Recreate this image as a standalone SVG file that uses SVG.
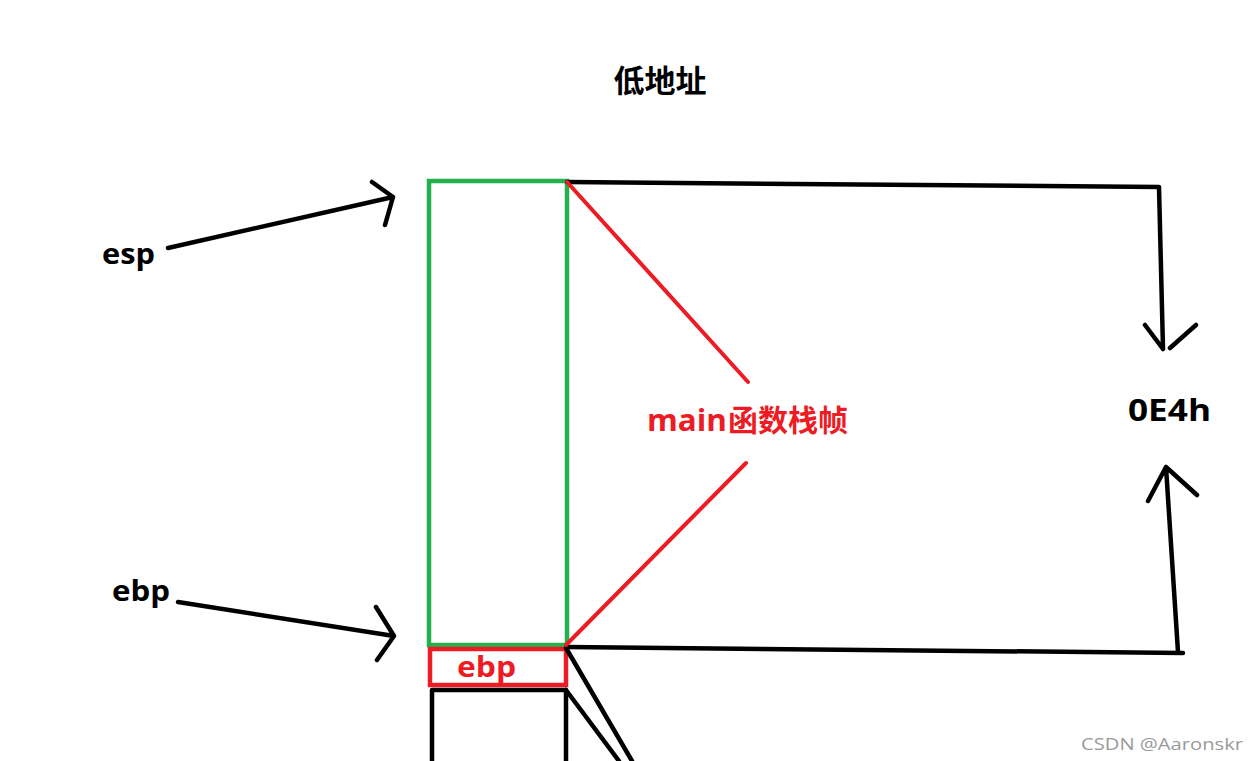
<svg xmlns="http://www.w3.org/2000/svg" width="1249" height="761" viewBox="0 0 1249 761">
<style>
.k{fill:none;stroke:#000;stroke-width:4.5;stroke-linecap:round;stroke-linejoin:round}
.r{fill:none;stroke:#ed1c24;stroke-width:4;stroke-linecap:round}
.t{font-family:"Open Sans","Noto Sans CJK SC",sans-serif;font-weight:bold;fill:#000}
.cjk{font-family:"Noto Sans CJK SC",sans-serif;font-weight:bold}
</style>
<rect width="1249" height="761" fill="#fff"/>
<g id="title"><text class="t cjk" x="660" y="92" font-size="31" text-anchor="middle">低地址</text></g>
<g id="stack">
<rect x="429" y="181" width="138" height="464" fill="none" stroke="#22b14c" stroke-width="4.5"/>
<rect x="430" y="649" width="136" height="36" fill="none" stroke="#ed1c24" stroke-width="4.5"/>
<text class="t" x="457" y="677" font-size="28" textLength="59" lengthAdjust="spacingAndGlyphs" style="fill:#ed1c24">ebp</text>
<path class="k" d="M432 761 V690 H566 V761" stroke-linecap="butt"/>
</g>
<g id="esp"><text class="t" x="102" y="264" font-size="29" textLength="53" lengthAdjust="spacingAndGlyphs">esp</text></g>
<g id="ebp"><text class="t" x="112" y="601" font-size="29" textLength="58" lengthAdjust="spacingAndGlyphs">ebp</text></g>
<g id="label"><text class="t" x="647" y="431" font-size="30" style="fill:#ed1c24"><tspan textLength="80" lengthAdjust="spacingAndGlyphs">main</tspan><tspan class="cjk" x="728">函数栈帧</tspan></text></g>
<g id="size"><text class="t" x="1128" y="421" font-size="30" textLength="83" lengthAdjust="spacingAndGlyphs">0E4h</text></g>
<g id="watermark"><text x="1081" y="750" font-family="'Open Sans',sans-serif" font-size="17" fill="#9a9a9a" textLength="162" lengthAdjust="spacingAndGlyphs">CSDN @Aaronskr</text></g>
<g id="connectors">
<path class="k" d="M168 248 L393 197 M372 182 L393 197 L385 225"/>
<path class="k" d="M178 602 L394 636 M376 607 L394 636 L377 660"/>
<path class="k" d="M567 182 L1159 187 L1163 349 M1145 325 L1163 349 M1196 325 L1170 348"/>
<path class="k" d="M567 647 L1183 653 M1178 652 L1166 467 M1148 501 L1166 467 L1197 495"/>
<path class="k" d="M566 648 L632 761 M566 690 L619 761" stroke-linecap="butt"/>
<path class="r" d="M567 182 L748 382 M566 645 L746 463"/>
</g>
</svg>
